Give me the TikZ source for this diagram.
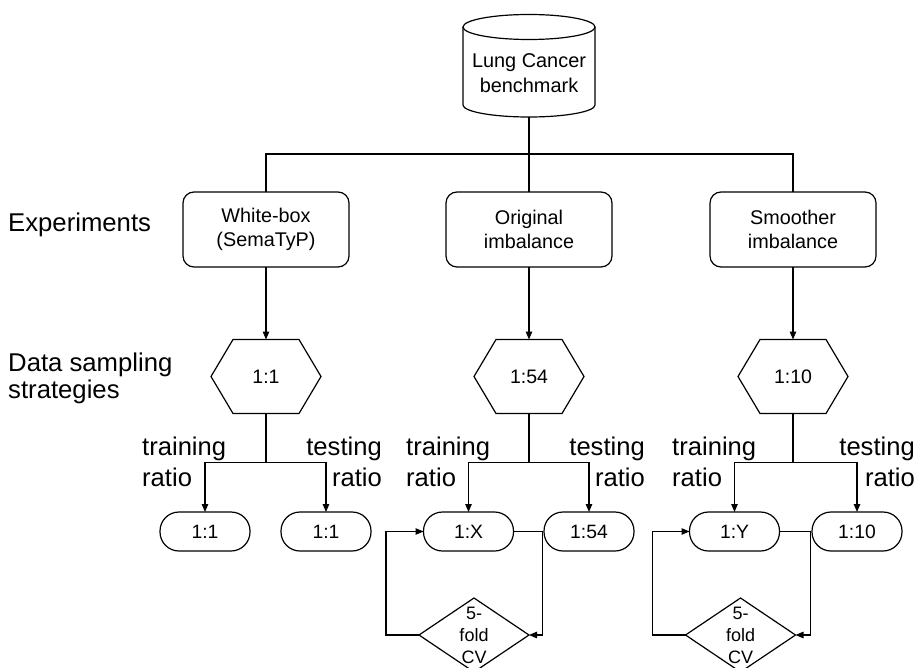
\documentclass[tikz,border=0pt]{standalone}
\usepackage{fontspec}
\setmainfont{Liberation Sans}
\usetikzlibrary{arrows.meta,calc}
\begin{document}
\begin{tikzpicture}[x=1pt,y=1pt]
\tikzset{
 ln/.style={line width=1.2pt},
 arr/.style={line width=1.2pt,-{Triangle[length=8pt,width=6.5pt]}},
 expbox/.style={draw,line width=1.2pt,rounded corners=11pt,minimum width=166pt,minimum height=75pt,align=center,font=\fontsize{19.8}{24}\selectfont,inner sep=0pt,outer sep=0pt},
 hexbox/.style={minimum width=110pt,minimum height=74pt,inner sep=0pt,outer sep=0pt,font=\fontsize{19.5}{24}\selectfont},
 pill/.style={draw,line width=1.2pt,rounded corners=19pt,minimum width=90pt,minimum height=39pt,inner sep=0pt,outer sep=0pt,font=\fontsize{19.3}{24}\selectfont},
 cvbox/.style={minimum width=110pt,minimum height=74pt,inner sep=0pt,outer sep=0pt,align=center,font=\fontsize{18}{22}\selectfont},
 lbl/.style={inner sep=0pt,font=\fontsize{25.6}{31}\selectfont},
 rowlbl/.style={inner sep=0pt,align=left,font=\fontsize{25.7}{27}\selectfont}
}
\useasboundingbox (0,0) rectangle (917,-668);
% database cylinder
\draw[ln,fill=white] (463,-27) -- (463,-105) arc[start angle=180,end angle=360,x radius=66pt,y radius=12pt] -- (595,-27);
\draw[ln] (529,-27) ellipse[x radius=66pt,y radius=12.5pt];
\node[align=center,inner sep=0pt,font=\fontsize{19.9}{25}\selectfont] (db) at (529,-73) {Lung Cancer\\benchmark};
\coordinate (dbb) at (529,-117);
\coordinate (bus) at (529,-154);

% row labels
\node[rowlbl,anchor=base west] (lexp) at (8,-232) {Experiments};
\node[rowlbl,anchor=west] (ldata) at (8,-378) {Data sampling\\strategies};

% experiment boxes
\node[expbox] (e1) at (266,-229.5) {White-box\\(SemaTyP)};
\node[expbox] (e2) at (529,-229.5) {Original\\imbalance};
\node[expbox] (e3) at (793,-229.5) {Smoother\\imbalance};

% hexagons
\node[hexbox] (h1) at (266,-376.5) {1:1};
\node[hexbox] (h2) at (529,-376.5) {1:54};
\node[hexbox] (h3) at (793,-376.5) {1:10};
\foreach \h in {h1,h2,h3}
  \draw[ln] ([xshift=22pt]\h.north west) -- ([xshift=-22pt]\h.north east) -- (\h.east)
    -- ([xshift=-22pt]\h.south east) -- ([xshift=22pt]\h.south west) -- (\h.west) -- cycle;

% ratio boxes
\node[pill] (t1) at (205,-531.5) {1:1};
\node[pill] (s1) at (326,-531.5) {1:1};
\node[pill] (t2) at (468.5,-531.5) {1:X};
\node[pill] (s2) at (589,-531.5) {1:54};
\node[pill] (t3) at (734.5,-531.5) {1:Y};
\node[pill] (s3) at (857,-531.5) {1:10};

% diamonds
\node[cvbox] (d2) at (474,-635) {5-\\fold\\CV};
\node[cvbox] (d3) at (740.5,-635) {5-\\fold\\CV};
\foreach \d in {d2,d3}
  \draw[ln] (\d.north) -- (\d.east) -- (\d.south) -- (\d.west) -- cycle;

% labels
\node[lbl,anchor=west,align=left] (tr1) at (142,-461.5) {training\\ratio};
\node[lbl,anchor=east,align=right] (te1) at (382,-461.5) {testing\\ratio};
\node[lbl,anchor=west,align=left] (tr2) at (406,-461.5) {training\\ratio};
\node[lbl,anchor=east,align=right] (te2) at (645,-461.5) {testing\\ratio};
\node[lbl,anchor=west,align=left] (tr3) at (672,-461.5) {training\\ratio};
\node[lbl,anchor=east,align=right] (te3) at (915,-461.5) {testing\\ratio};

% connectors
\draw[ln] (dbb) -- (bus);
\draw[ln] (e1.north) |- (bus) -| (e3.north);
\draw[ln] (bus) -- (e2.north);
\foreach \i in {1,2,3} {
  \draw[arr] (e\i.south) -- (h\i.north);
  \coordinate (sp\i) at ([yshift=-49pt]h\i.south);
  \draw[ln] (h\i.south) -- (sp\i);
  \draw[arr] (sp\i) -| (t\i.north);
  \draw[arr] (sp\i) -| (s\i.north);
}
\draw[arr] (t2.east) -- ++(29,0) |- (d2.east);
\draw[arr] (d2.west) -- ++(-33,0) |- (t2.west);
\draw[arr] (t3.east) -- ++(31,0) |- (d3.east);
\draw[arr] (d3.west) -- ++(-33,0) |- (t3.west);
\end{tikzpicture}
\end{document}
